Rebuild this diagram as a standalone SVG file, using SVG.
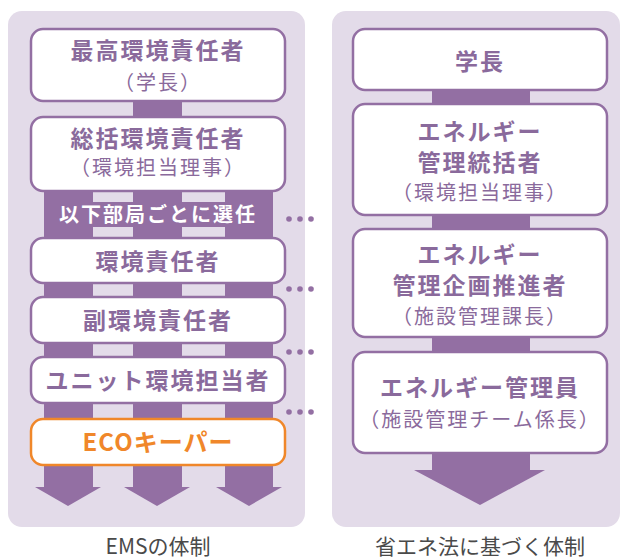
<svg xmlns="http://www.w3.org/2000/svg" width="622" height="560" viewBox="0 0 622 560">
<style>
text{font-family:"Noto Sans CJK JP","Noto Sans",sans-serif;text-anchor:middle}
.panel{fill:#e3dbe9}
.bar{fill:#936fa3}
.box{fill:#fff;stroke:#936fa3;stroke-width:2.5}
.eco{fill:#fff;stroke:#f0872a;stroke-width:2.5}
.t{fill:#8a6a9c;font-size:23px;font-weight:bold;letter-spacing:2px}
.s{fill:#8a6a9c;font-size:20px;letter-spacing:2px}
.band{fill:#fff;font-size:20px;font-weight:bold;letter-spacing:2px}
.et{fill:#f0872a;font-size:24px;font-weight:bold;letter-spacing:1px}
.cap{fill:#4a4a4a;font-size:21px}
.dot{fill:#936fa3}
</style>
<rect class="panel" x="8" y="11" width="297" height="516" rx="14"/>
<rect class="panel" x="332" y="11" width="288" height="516" rx="14"/>
<g id="connectors">
<rect class="bar" x="133" y="100" width="49" height="20"/>
<rect class="bar" x="44" y="190" width="49" height="297"/>
<rect class="bar" x="133" y="190" width="49" height="297"/>
<rect class="bar" x="225" y="190" width="48" height="297"/>
<rect class="bar" x="44" y="202" width="229" height="25"/>
<polygon class="bar" points="35,487 101,487 68,506"/>
<polygon class="bar" points="124,487 190,487 157,506"/>
<polygon class="bar" points="216,487 282,487 249,506"/>
<rect class="bar" x="432" y="88" width="98" height="18"/>
<rect class="bar" x="432" y="213" width="98" height="18"/>
<rect class="bar" x="432" y="335" width="98" height="20"/>
<rect class="bar" x="432" y="451" width="98" height="20"/>
<polygon class="bar" points="414,470 545,470 480,505"/>
<g class="dot">
<circle cx="289" cy="219" r="2.8"/><circle cx="300" cy="219" r="2.8"/><circle cx="311" cy="219" r="2.8"/>
<circle cx="289" cy="289" r="2.8"/><circle cx="300" cy="289" r="2.8"/><circle cx="311" cy="289" r="2.8"/>
<circle cx="289" cy="352" r="2.8"/><circle cx="300" cy="352" r="2.8"/><circle cx="311" cy="352" r="2.8"/>
<circle cx="289" cy="412" r="2.8"/><circle cx="300" cy="412" r="2.8"/><circle cx="311" cy="412" r="2.8"/>
</g>
</g>
<g id="band"><text class="band" x="158" y="222">以下部局ごとに選任</text></g>
<g id="n1"><rect class="box" x="31" y="29" width="254" height="72" rx="12"/>
<text class="t" x="158" y="59">最高環境責任者</text><text class="s" x="158" y="90">（学長）</text></g>
<g id="n2"><rect class="box" x="31" y="117" width="254" height="74" rx="12"/>
<text class="t" x="158" y="147">総括環境責任者</text><text class="s" x="158" y="175">（環境担当理事）</text></g>
<g id="n3"><rect class="box" x="31" y="238" width="254" height="45" rx="12"/>
<text class="t" x="158" y="270">環境責任者</text></g>
<g id="n4"><rect class="box" x="31" y="297" width="254" height="46" rx="12"/>
<text class="t" x="158" y="329">副環境責任者</text></g>
<g id="n5"><rect class="box" x="31" y="357" width="254" height="46" rx="12"/>
<text class="t" x="158" y="389">ユニット環境担当者</text></g>
<g id="n6"><rect class="eco" x="31" y="419" width="254" height="46" rx="12"/>
<text class="et" x="158" y="451">ECOキーパー</text></g>
<g id="r1"><rect class="box" x="353" y="29" width="254" height="61" rx="12"/>
<text class="t" x="480" y="70">学長</text></g>
<g id="r2"><rect class="box" x="353" y="104" width="254" height="111" rx="12"/>
<text class="t" x="480" y="140">エネルギー</text><text class="t" x="480" y="171">管理統括者</text><text class="s" x="480" y="200">（環境担当理事）</text></g>
<g id="r3"><rect class="box" x="353" y="229" width="254" height="108" rx="12"/>
<text class="t" x="480" y="263">エネルギー</text><text class="t" x="480" y="294">管理企画推進者</text><text class="s" x="480" y="324">（施設管理課長）</text></g>
<g id="r4"><rect class="box" x="353" y="352" width="254" height="101" rx="12"/>
<text class="t" x="480" y="396">エネルギー管理員</text><text class="s" x="480" y="427">（施設管理チーム係長）</text></g>
<text class="cap" x="158" y="554">EMSの体制</text>
<text class="cap" x="480" y="554">省エネ法に基づく体制</text>
</svg>
